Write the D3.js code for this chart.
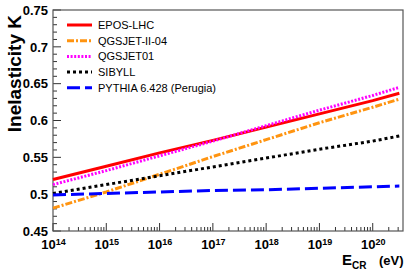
<!DOCTYPE html>
<html>
<head>
<meta charset="utf-8">
<style>
  html, body { margin: 0; padding: 0; background: #fff; }
  svg text { font-family: "Liberation Sans", Arial, sans-serif; }
  .tick text { font-weight: bold; font-size: 13px; fill: #000; }
</style>
<script src="https://cdn.jsdelivr.net/npm/d3@7"></script>
</head>
<body>
<div id="main"></div>
<script>
// energies (eV) where the curves were read
var energies = [1e14, 1e15, 1e16, 1e17, 1e18, 1e19, 1e20, 3.16e20];
var epos     = [0.520, 0.538, 0.556, 0.573, 0.591, 0.609, 0.627, 0.637];
var qgsII    = [0.481, 0.503, 0.527, 0.551, 0.574, 0.597, 0.618, 0.629];
var qgs01    = [0.513, 0.532, 0.552, 0.572, 0.593, 0.614, 0.634, 0.645];
var sibyll   = [0.501, 0.513, 0.525, 0.537, 0.549, 0.561, 0.572, 0.579];
var pythia   = [0.499, 0.501, 0.503, 0.505, 0.506, 0.508, 0.510, 0.511];

var seriesNames = ["EPOS-LHC", "QGSJET-II-04", "QGSJET01", "SIBYLL", "PYTHIA 6.428 (Perugia)"];
var seriesData = [epos, qgsII, qgs01, sibyll, pythia];
var colors = ["#ff0000", "#ff9410", "#ff00ff", "#000000", "#0000ff"];
var dashes = [null, "7,2,2,2", "2,1.6", "3,3", "13,5"];

var yTicks = [0.45, 0.5, 0.55, 0.6, 0.65, 0.7, 0.75];
var xExps = [14, 15, 16, 17, 18, 19, 20];

var width = 414, height = 274;
var mLeft = 53, mRight = 403, mTop = 10, mBottom = 231;

var svg = d3.select("#main").append("svg")
    .attr("width", width)
    .attr("height", height);

var x = d3.scaleLog().domain([1e14, 3.7e20]).range([mLeft, mRight]);
var y = d3.scaleLinear().domain([0.45, 0.75]).range([mBottom, mTop]);

// minor ticks
var yMinor = d3.range(45, 76).map(function(d) { return d / 100; });
svg.append("g")
    .attr("transform", "translate(" + mLeft + ",0)")
    .selectAll("line")
    .data(yMinor)
    .enter()
    .append("line")
    .attr("x1", 0)
    .attr("x2", function(d) { return Math.round(d * 100) % 5 == 0 ? 8 : 4; })
    .attr("y1", function(d) { return y(d); })
    .attr("y2", function(d) { return y(d); })
    .attr("stroke", "#333")
    .attr("stroke-width", 1);

var xMinor = [];
for (var e = 14; e <= 20; e++) {
    for (var m = 1; m < 10; m++) {
        var v = m * Math.pow(10, e);
        if (v <= 3.7e20) xMinor.push({v: v, major: m == 1});
    }
}
svg.append("g")
    .selectAll("line")
    .data(xMinor)
    .enter()
    .append("line")
    .attr("x1", function(d) { return x(d.v); })
    .attr("x2", function(d) { return x(d.v); })
    .attr("y1", mBottom)
    .attr("y2", function(d) { return mBottom - (d.major ? 8 : 4); })
    .attr("stroke", "#333")
    .attr("stroke-width", 1);

// axes labels only
var yAxis = svg.append("g")
    .attr("transform", "translate(" + mLeft + ",0)")
    .call(d3.axisLeft(y).tickValues(yTicks).tickSize(0).tickPadding(5)
        .tickFormat(function(d) { return String(+d.toFixed(2)); }));
yAxis.select(".domain").remove();

var xAxis = svg.append("g")
    .attr("transform", "translate(0," + mBottom + ")")
    .call(d3.axisBottom(x).tickValues(xExps.map(function(e) { return Math.pow(10, e); }))
        .tickSize(0).tickPadding(4).tickFormat(""));
xAxis.select(".domain").remove();
xAxis.selectAll(".tick text")
    .data(xExps)
    .attr("dy", "1.05em")
    .each(function(e) {
        var t = d3.select(this);
        t.append("tspan").text("10");
        t.append("tspan").attr("dy", "-0.45em").attr("font-size", "9px").text(e);
    });

// frame
svg.append("rect")
    .attr("x", mLeft)
    .attr("y", mTop)
    .attr("width", mRight - mLeft)
    .attr("height", mBottom - mTop)
    .attr("fill", "none")
    .attr("stroke", "#555")
    .attr("stroke-width", 1.2);

// curves
var line = d3.line()
    .x(function(d, i) { return x(energies[i]); })
    .y(function(d) { return y(d); });

var order = [1, 3, 4, 0, 2];
order.forEach(function(i) {
    svg.append("path")
        .datum(seriesData[i])
        .attr("d", line)
        .attr("fill", "none")
        .attr("stroke", colors[i])
        .attr("stroke-width", 3)
        .attr("stroke-dasharray", dashes[i]);
});

// legend
var legend = svg.append("g").attr("transform", "translate(67,25)");
var rows = legend.selectAll("g")
    .data(seriesNames)
    .enter()
    .append("g")
    .attr("transform", function(d, i) { return "translate(0," + (i * 15.7) + ")"; });
rows.append("line")
    .attr("x1", 0).attr("x2", 25)
    .attr("stroke", function(d, i) { return colors[i]; })
    .attr("stroke-width", 3)
    .attr("stroke-dasharray", function(d, i) { return dashes[i]; });
rows.append("text")
    .attr("x", 31)
    .attr("dy", "0.36em")
    .attr("font-size", "11px")
    .text(function(d) { return d; });

// axis titles
svg.append("text")
    .attr("transform", "rotate(-90)")
    .attr("x", -15)
    .attr("y", 21)
    .attr("text-anchor", "end")
    .attr("font-size", "19px")
    .attr("font-weight", "bold")
    .text("Inelasticity K");

var xt = svg.append("text")
    .attr("x", 342)
    .attr("y", 265)
    .attr("font-weight", "bold")
    .attr("font-size", "15px");
xt.append("tspan").text("E");
xt.append("tspan").attr("dy", "4").attr("font-size", "10px").text("CR");
xt.append("tspan").attr("x", 379).attr("dy", "-4").attr("font-size", "13px").text("(eV)");
</script>
</body>
</html>
